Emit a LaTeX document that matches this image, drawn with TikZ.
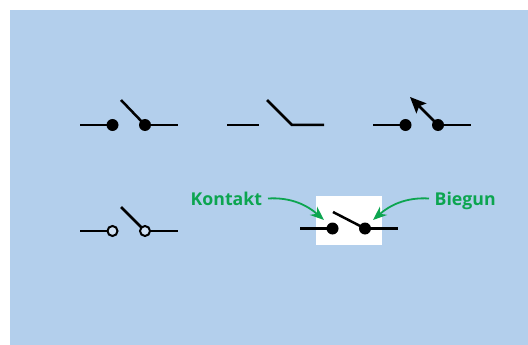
\documentclass[tikz,border=0pt]{standalone}
\usepackage{fontspec}
\setmainfont{Open Sans}
\usetikzlibrary{arrows.meta}
\definecolor{bgblue}{HTML}{B3CFEC}
\definecolor{lblgreen}{HTML}{0CA550}
\tikzset{
  wire/.style={line width=2.5pt,black,line cap=butt},
  solid dot/.style={circle,fill=black,inner sep=0pt,minimum size=12pt},
  hollow dot/.style={circle,draw=black,line width=2pt,fill=bgblue!60!white,inner sep=0pt,minimum size=10pt},
  lbl/.style={text=lblgreen,font=\fontsize{17.7pt}{20pt}\selectfont\bfseries,inner sep=0pt},
  callout/.style={draw=lblgreen,line width=1.8pt,-{Stealth[length=14pt,width=11pt]}}
}
\begin{document}
\begin{tikzpicture}[x=1pt,y=-1pt]
\useasboundingbox (0,0) rectangle (528,345);
\fill[bgblue] (10,10) rectangle (528,345);
% switch 1
\coordinate (a1) at (80,125); \coordinate (b1) at (178,125); \coordinate (l1) at (121,100);
\node[solid dot] (p1) at (112.5,125) {};
\node[solid dot] (q1) at (145,125) {};
\draw[wire] (a1) -- (p1.center);
\draw[wire] (q1.center) -- (b1);
\draw[wire] (q1.center) -- (l1);
% switch 2
\coordinate (a2) at (227,125); \coordinate (c2) at (259,125);
\coordinate (q2) at (292,125); \coordinate (b2) at (324,125); \coordinate (l2) at (267,100);
\draw[wire] (a2) -- (c2);
\draw[wire,line join=miter] (l2) -- (q2) -- (b2);
% switch 3
\coordinate (a3) at (373,125); \coordinate (b3) at (471,125); \coordinate (l3) at (410,97);
\node[solid dot] (p3) at (405.5,125) {};
\node[solid dot] (q3) at (438,125) {};
\draw[wire] (a3) -- (p3.center);
\draw[wire] (q3.center) -- (b3);
\draw[wire,-{Stealth[length=16pt,width=14pt,inset=3pt]}] (q3.center) -- (l3);
% switch 4
\coordinate (a4) at (80,231); \coordinate (b4) at (178,231); \coordinate (l4) at (121,207);
\coordinate (p4c) at (112.5,231); \coordinate (q4c) at (145,231);
\draw[wire] (a4) -- (p4c);
\draw[wire] (q4c) -- (b4);
\draw[wire] (q4c) -- (l4);
\node[hollow dot] (p4) at (p4c) {};
\node[hollow dot] (q4) at (q4c) {};
% switch 5
\fill[white] (316,196) rectangle (382,245);
\coordinate (a5) at (300,228.5); \coordinate (b5) at (398,228.5); \coordinate (l5) at (333,212);
\node[solid dot] (p5) at (332.5,228.5) {};
\node[solid dot] (q5) at (365,228.5) {};
\draw[wire] (a5) -- (p5.center);
\draw[wire] (q5.center) -- (b5);
\draw[wire] (q5.center) -- (l5);
% labels
\node[lbl,anchor=base west] (k) at (190.5,205.5) {Kontakt};
\node[lbl,anchor=base west] (g) at (434.5,205.5) {Biegun};
\coordinate (ks) at (268,198.5); \coordinate (ke) at (324,220);
\coordinate (gs) at (429,198.5); \coordinate (ge) at (373,220);
\draw[callout] (ks) .. controls (292,197) and (308,206) .. (ke);
\draw[callout] (gs) .. controls (405,197) and (389,206) .. (ge);
\end{tikzpicture}
\end{document}
